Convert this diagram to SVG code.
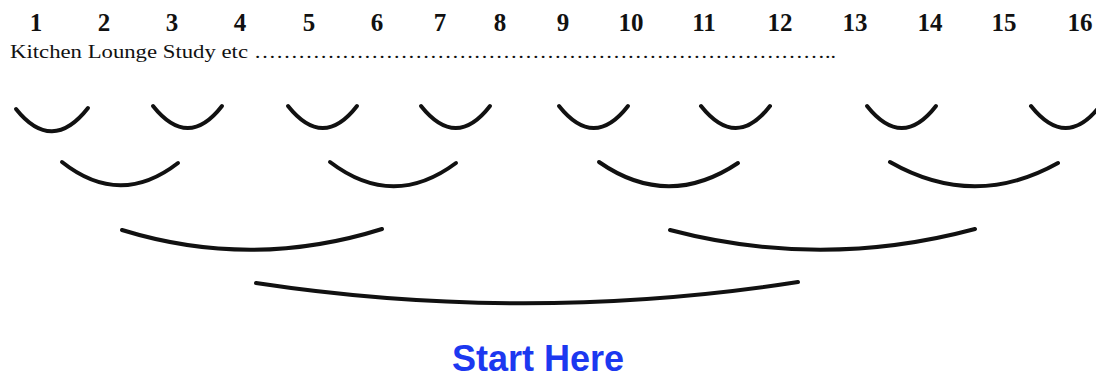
<svg xmlns="http://www.w3.org/2000/svg" width="1096" height="379" viewBox="0 0 1096 379">
<style>
.num{font-family:"Liberation Serif",serif;font-weight:bold;font-size:25px;fill:#111;text-anchor:middle}
.lbl{font-family:"Liberation Serif",serif;font-size:19px;fill:#111}
.arc{fill:none;stroke:#111;stroke-width:4;stroke-linecap:round}
.start{font-family:"Liberation Sans",Arial,sans-serif;font-weight:bold;font-size:36px;fill:#1c38f0;text-anchor:middle}
</style>
<rect width="1096" height="379" fill="#fff"/>
<g id="numbers">
<text class="num" x="36" y="31">1</text>
<text class="num" x="104" y="31">2</text>
<text class="num" x="172" y="31">3</text>
<text class="num" x="240" y="31">4</text>
<text class="num" x="309" y="31">5</text>
<text class="num" x="377" y="31">6</text>
<text class="num" x="440" y="31">7</text>
<text class="num" x="500" y="31">8</text>
<text class="num" x="563" y="31">9</text>
<text class="num" x="631" y="31">10</text>
<text class="num" x="704" y="31">11</text>
<text class="num" x="780" y="31">12</text>
<text class="num" x="855" y="31">13</text>
<text class="num" x="930" y="31">14</text>
<text class="num" x="1004" y="31">15</text>
<text class="num" x="1080" y="31">16</text>
</g>
<g id="rooms-label">
<text class="lbl" x="10" y="58" textLength="238" lengthAdjust="spacingAndGlyphs">Kitchen Lounge Study etc</text>
<text class="lbl" x="254" y="58" textLength="582" lengthAdjust="spacingAndGlyphs">……………………………………………………………………..</text>
</g>
<g id="connectors">
<path class="arc" d="M16 109 Q52 154 88 108"/>
<path class="arc" d="M153 106 Q188 150 222 106"/>
<path class="arc" d="M288 106 Q323 150 357 106"/>
<path class="arc" d="M421 106 Q456 150 490 106"/>
<path class="arc" d="M559 106 Q594 150 628 106"/>
<path class="arc" d="M701 106 Q736 150 770 106"/>
<path class="arc" d="M867 106 Q902 150 936 106"/>
<path class="arc" d="M1031 106 Q1066 150 1100 106"/>
<path class="arc" d="M62 162 Q120 208 178 163"/>
<path class="arc" d="M330 162 Q393 210 456 163"/>
<path class="arc" d="M599 162 Q668 210 738 163"/>
<path class="arc" d="M890 162 Q974 210 1058 163"/>
<path class="arc" d="M122 230 Q252 270 382 229"/>
<path class="arc" d="M670 230 Q822 270 975 229"/>
<path class="arc" d="M256 283 Q527 324 798 282"/>
</g>
<g id="start">
<text class="start" x="538" y="371">Start Here</text>
</g>
</svg>
